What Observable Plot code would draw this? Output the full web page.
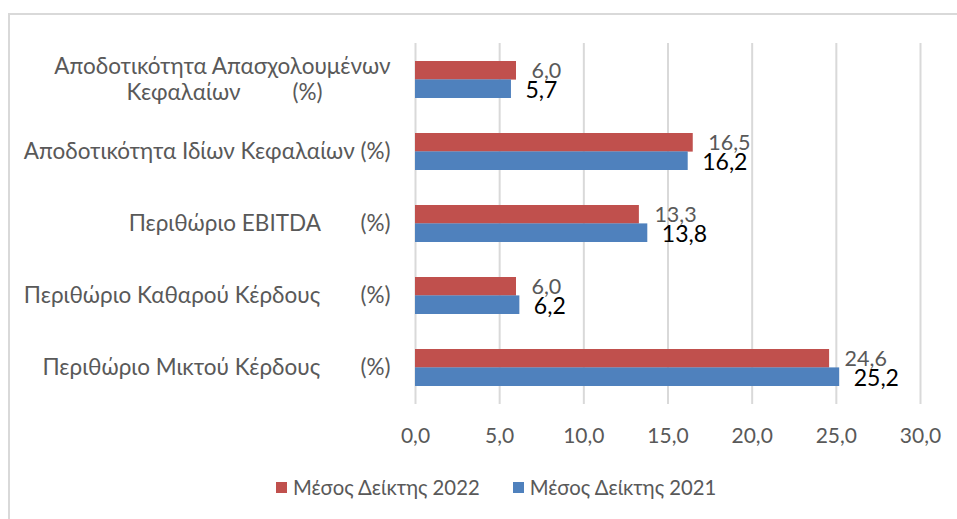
<!DOCTYPE html>
<html><head><meta charset="utf-8">
<script src="https://cdn.jsdelivr.net/npm/d3@7"></script>
<script src="https://cdn.jsdelivr.net/npm/@observablehq/plot@0.6"></script>
<style>
body{margin:0;background:#fff;}
#wrap{position:relative;width:957px;height:519px;overflow:hidden;font-family:Lato,"Open Sans",sans-serif;}
#frame{position:absolute;left:8px;top:13px;width:1000px;height:600px;border-left:2px solid #d9d9d9;border-top:2px solid #d9d9d9;}
#chart{position:absolute;left:0;top:0;}
#chart text{white-space:pre;}
#legend{position:absolute;left:276px;top:475px;display:flex;align-items:center;font-size:20.3px;color:#595959;white-space:nowrap;}
#legend .sw{display:inline-block;width:11px;height:11px;margin-right:6px;}
#legend .item{display:flex;align-items:center;margin-right:33px;}
</style>
</head><body>
<div id="wrap"><div id="frame"></div><div id="chart"></div><div id="legend"></div></div>
<script>
const categories = [
  "Αποδοτικότητα Απασχολουμένων\nΚεφαλαίων         (%)",
  "Αποδοτικότητα Ιδίων Κεφαλαίων (%)",
  "Περιθώριο EBITDA       (%)",
  "Περιθώριο Καθαρού Κέρδους       (%)",
  "Περιθώριο Μικτού Κέρδους       (%)"
];
const values2022 = [6.0, 16.5, 13.3, 6.0, 24.6];
const values2021 = [5.7, 16.2, 13.8, 6.2, 25.2];
const seriesNames = ["Μέσος Δείκτης 2022", "Μέσος Δείκτης 2021"];
const seriesColors = ["#C0504D", "#4F81BD"];
const xTicks = [0, 5, 10, 15, 20, 25, 30];

const fmt = v => d3.format(".1f")(v).replace(".", ",");
const d22 = categories.map((c, i) => ({cat: c, v: values2022[i]}));
const d21 = categories.map((c, i) => ({cat: c, v: values2021[i]}));
const single = categories.filter(c => !c.includes("\n"));
const multi = categories.filter(c => c.includes("\n"));
const half = 18.4;
const labelStyle = {fill: "#595959", fontSize: 22.5};

const chart = Plot.plot({
  width: 957, height: 465,
  marginLeft: 415, marginRight: 37, marginTop: 43, marginBottom: 61,
  style: {fontFamily: "Lato, 'Open Sans', sans-serif", fontSize: "21px", background: "transparent"},
  x: {domain: [0, 30], label: null},
  y: {domain: categories, paddingInner: 0.49, paddingOuter: 0.245, axis: null},
  marks: [
    Plot.gridX({ticks: xTicks, stroke: "#d9d9d9", strokeOpacity: 1, strokeWidth: 2}),
    Plot.axisX({ticks: xTicks, tickSize: 0, tickPadding: 24, tickFormat: fmt, fontSize: 21, fill: "#595959", label: null}),
    Plot.barX(d22, {x: "v", y: "cat", fill: seriesColors[0], insetBottom: half}),
    Plot.barX(d21, {x: "v", y: "cat", fill: seriesColors[1], insetTop: half}),
    Plot.text(d22, {x: "v", y: "cat", text: d => fmt(d.v), dx: 15, dy: -9, textAnchor: "start", fill: "#595959", fontSize: 21.5}),
    Plot.text(d21, {x: "v", y: "cat", text: d => fmt(d.v), dx: 14, dy: 11, textAnchor: "start", fill: "#000", fontSize: 23}),
    Plot.text(single, {y: d => d, text: d => d, frameAnchor: "left", dx: -25, textAnchor: "end", ...labelStyle}),
    Plot.text(multi, {y: d => d, text: d => d.split("\n")[0], frameAnchor: "left", dx: -25, dy: -13, textAnchor: "end", ...labelStyle}),
    Plot.text(multi, {y: d => d, text: d => d.split("\n")[1], frameAnchor: "left", dx: -191, dy: 13, textAnchor: "middle", ...labelStyle})
  ]
});
document.getElementById("chart").appendChild(chart);

const legend = document.getElementById("legend");
seriesNames.forEach((n, i) => {
  const it = document.createElement("div");
  it.className = "item";
  it.innerHTML = `<span class="sw" style="background:${seriesColors[i]}"></span><span>${n}</span>`;
  legend.appendChild(it);
});
</script>
</body></html>
